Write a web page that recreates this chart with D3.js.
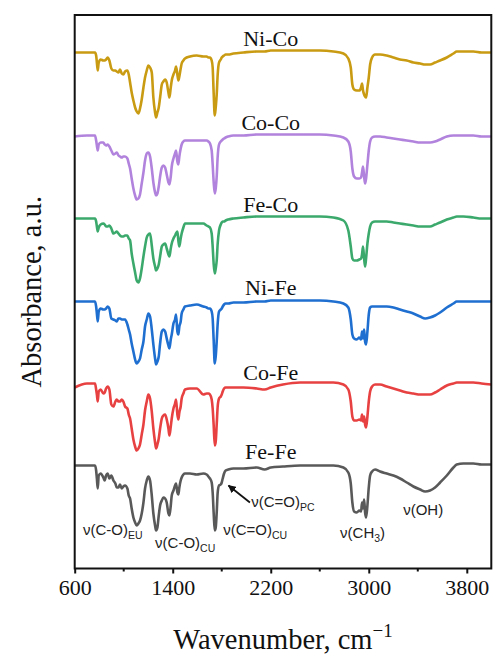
<!DOCTYPE html>
<html>
<head>
<meta charset="utf-8">
<script src="https://cdn.jsdelivr.net/npm/d3@7"></script>
<style>
  body { margin: 0; background: #fff; }
  svg text { fill: #111; }
</style>
</head>
<body>
<div id="chart"></div>
<script>
// wavenumber grid shared by all spectra (cm-1)
const wavenumbers = [600, 700, 766, 775, 781, 788, 796, 812, 834, 845, 856, 869, 883, 899, 916, 932, 943, 957, 970, 984,
  997, 1011, 1030, 1041, 1052, 1065, 1079, 1093, 1106, 1120, 1133, 1147, 1161, 1174, 1188, 1201, 1215, 1229, 1242, 1256,
  1264, 1275, 1286, 1297, 1311, 1324, 1338, 1351, 1365, 1373, 1384, 1392, 1406, 1419, 1427, 1438, 1446, 1454, 1465, 1473,
  1487, 1500, 1541, 1596, 1650, 1677, 1691, 1704, 1718, 1726, 1734, 1743, 1751, 1759, 1767, 1778, 1792, 1800, 1808, 1819,
  1832, 1854, 1895, 1977, 2086, 2150, 2200, 2300, 2440, 2600, 2711, 2793, 2833, 2853, 2866, 2880, 2902, 2923, 2937, 2945,
  2953, 2962, 2970, 2978, 2989, 3000, 3011, 3027, 3051, 3092, 3146, 3201, 3255, 3310, 3364, 3419, 3460, 3500, 3541, 3582,
  3637, 3691, 3718, 3772, 3854, 3920, 4000];

// band depth below each baseline (a.u.), one value per wavenumber
const feFe = [0, 0, 0, 5, 13, 23, 10, 8, 12, 15, 10, 8, 13, 10, 15, 18, 22, 22, 19, 23,
  21, 20, 23, 30, 33, 43, 52, 57, 60, 58, 55, 48, 37, 23, 15, 11, 15, 30, 48, 60,
  65, 62, 50, 40, 35, 32, 33, 37, 48, 50, 40, 30, 25, 20, 18, 27, 29, 22, 15, 12,
  9, 8, 8, 9, 8, 9, 11, 13, 17, 27, 47, 65, 62, 47, 27, 20, 19, 17, 13, 8,
  5, 4, 3, 3, 2, 4, 2, 1, 0, 0, 0, 2, 7, 18, 37, 46, 47, 45, 46, 37,
  43, 34, 47, 52, 40, 22, 10, 6, 4, 6, 8, 10, 13, 17, 21, 24, 26, 25, 22, 17,
  10, 2, -1, -2, -2, -1, -1];

const coFe = [1, -3, -3, 3, 8, 15, 5, 3, 7, 6, 2, 0, 3, 18, 20, 15, 13, 15, 15, 13,
  15, 20, 22, 28, 32, 42, 53, 60, 64, 62, 58, 48, 38, 24, 15, 8, 12, 25, 42, 56,
  62, 58, 52, 42, 32, 29, 28, 33, 42, 49, 40, 32, 22, 17, 13, 28, 33, 26, 20, 12,
  7, 3, 2, 2, 8, 7, 7, 8, 13, 22, 38, 59, 55, 38, 20, 12, 10, 8, 5, 2,
  1, 1, 1, 1, 2, 3, 1, -2, -4, -4, -4, -2, 3, 15, 30, 34, 34, 33, 34, 28,
  35, 30, 38, 41, 30, 15, 5, 0, -2, -2, 0, 2, 4, 6, 7, 8, 8, 8, 6, 3,
  -1, -3, -4, -4, -4, -3, -2];

const niFe = [0, 0, 0, 5, 12, 20, 10, 7, 8, 8, 7, 5, 7, 17, 18, 19, 20, 17, 17, 18,
  18, 18, 23, 28, 33, 42, 50, 58, 62, 60, 57, 48, 40, 25, 18, 12, 15, 28, 43, 57,
  63, 60, 55, 42, 30, 28, 30, 37, 44, 47, 38, 33, 22, 18, 13, 30, 33, 25, 20, 12,
  8, 5, 4, 3, 5, 6, 7, 7, 10, 17, 38, 62, 55, 40, 22, 10, 8, 7, 5, 3,
  2, 2, 1, 1, 0, 0, -1, -1, -1, -1, 0, 2, 6, 18, 33, 37, 38, 36, 38, 30,
  37, 28, 40, 43, 30, 13, 6, 5, 5, 5, 5, 6, 8, 10, 12, 15, 17, 16, 14, 11,
  6, 2, 0, 0, 0, 0, 0];

const feCo = [0, 0, 0, 3, 8, 13, 9, 6, 5, 6, 8, 8, 7, 10, 15, 14, 13, 15, 17, 18,
  18, 17, 17, 20, 22, 35, 45, 54, 62, 64, 60, 50, 38, 28, 19, 16, 15, 27, 40, 48,
  52, 50, 46, 38, 28, 26, 25, 30, 36, 38, 30, 25, 20, 17, 15, 13, 22, 28, 20, 15,
  9, 5, 5, 5, 5, 7, 8, 9, 15, 28, 45, 55, 50, 42, 25, 12, 6, 4, 3, 3,
  2, 1, 0, -1, -2, -2, -2, -2, -2, -2, -1, 2, 12, 28, 40, 42, 42, 41, 40, 36,
  28, 40, 48, 40, 25, 15, 8, 4, 3, 3, 3, 4, 5, 6, 7, 8, 8, 8, 6, 4,
  1, -1, -2, -2, -1, 0, 0];

const coCo = [0, -1, -1, 4, 9, 14, 8, 6, 6, 8, 9, 8, 10, 14, 18, 17, 16, 19, 20, 21,
  20, 20, 22, 27, 32, 42, 52, 59, 63, 62, 58, 47, 36, 24, 17, 16, 20, 32, 46, 56,
  59, 57, 50, 40, 31, 29, 31, 38, 46, 48, 40, 30, 22, 17, 14, 25, 28, 20, 12, 8,
  5, 4, 4, 4, 4, 4, 5, 7, 14, 28, 45, 57, 52, 40, 20, 8, 5, 4, 3, 2,
  1, 0, -1, -1, -2, -2, -2, -2, -2, -2, -1, 1, 5, 15, 32, 40, 42, 42, 41, 36,
  30, 40, 47, 42, 28, 14, 5, 1, 0, 0, 1, 2, 3, 4, 5, 6, 6, 6, 5, 3,
  0, -1, -1, -1, -1, 0, 0];

const niCo = [0, 0, 0, 3, 10, 18, 10, 7, 8, 8, 7, 5, 8, 16, 18, 18, 19, 20, 17, 21,
  22, 19, 18, 22, 30, 40, 48, 55, 59, 61, 56, 47, 35, 25, 18, 13, 15, 20, 45, 60,
  65, 60, 55, 45, 32, 29, 27, 30, 40, 45, 35, 28, 22, 18, 14, 22, 28, 24, 16, 11,
  8, 6, 4, 3, 4, 4, 5, 5, 8, 15, 40, 63, 55, 42, 22, 10, 7, 5, 4, 3,
  2, 2, 1, 0, -1, -1, -2, -2, -2, -2, -1, 1, 6, 15, 32, 37, 38, 38, 35, 31,
  38, 42, 44, 45, 35, 25, 12, 5, 2, 2, 3, 5, 7, 8, 10, 11, 12, 12, 10, 8,
  5, 1, -1, -1, -1, 0, 0];

const seriesNames = ["Fe-Fe", "Co-Fe", "Ni-Fe", "Fe-Co", "Co-Co", "Ni-Co"];
const seriesDepths = [feFe, coFe, niFe, feCo, coCo, niCo];
const seriesColors = ["#595959", "#e84142", "#1f6fd0", "#3ca96c", "#b283dc", "#c99b12"];
const seriesOffsets = [103, 182, 267, 350, 432, 516];

const xTicks = [600, 1400, 2200, 3000, 3800];
const xMinorTicks = [1000, 1800, 2600, 3400];

// band assignments on the Fe-Fe trace
const bands = [
  { main: "ν(C-O)", sub: "EU", tail: "", wn: 668, y: 34 },
  { main: "ν(C-O)", sub: "CU", tail: "", wn: 1256, y: 21 },
  { main: "ν(C=O)", sub: "CU", tail: "", wn: 1812, y: 34 },
  { main: "ν(C=O)", sub: "PC", tail: "", wn: 2041, y: 62 },
  { main: "ν(CH", sub: "3", tail: ")", wn: 2766, y: 31 },
  { main: "ν(OH)", sub: "", tail: "", wn: 3281, y: 54 }
];
const arrowFrom = [2030, 66];
const arrowTo = [1855, 83];

const width = 494, height = 655;
const margin = { top: 15, right: 2.7, bottom: 86.5, left: 74.7 };

const svg = d3.select("#chart").append("svg")
  .attr("width", width)
  .attr("height", height);

const x = d3.scaleLinear().domain([600, 4000]).range([margin.left, width - margin.right]);
const y = d3.scaleLinear().domain([0, 553.5]).range([height - margin.bottom, margin.top]);

svg.append("clipPath").attr("id", "plot-clip")
  .append("rect")
  .attr("x", margin.left).attr("y", margin.top)
  .attr("width", width - margin.left - margin.right)
  .attr("height", height - margin.top - margin.bottom);

const line = d3.line()
  .x(d => x(d[0]))
  .y(d => y(d[1]))
  .curve(d3.curveMonotoneX);

const plot = svg.append("g").attr("clip-path", "url(#plot-clip)");

seriesNames.forEach((name, i) => {
  const pts = wavenumbers.map((w, j) => [w, seriesOffsets[i] - seriesDepths[i][j]]);
  plot.append("path")
    .datum(pts)
    .attr("fill", "none")
    .attr("stroke", seriesColors[i])
    .attr("stroke-width", 2.6)
    .attr("stroke-linejoin", "round")
    .attr("d", line);

  svg.append("text")
    .attr("x", x(2200))
    .attr("y", y(seriesOffsets[i] + 7))
    .attr("text-anchor", "middle")
    .style("font-family", "'Liberation Serif', serif")
    .style("font-size", "22px")
    .text(name);
});

// band labels
bands.forEach(b => {
  const t = svg.append("text")
    .attr("x", x(b.wn))
    .attr("y", y(b.y))
    .style("font-family", "'Liberation Sans', Arial, sans-serif")
    .style("font-size", "15px")
    .style("fill", "#222");
  t.append("tspan").text(b.main);
  if (b.sub) t.append("tspan").attr("dy", 4).style("font-size", "10.5px").text(b.sub);
  if (b.tail) t.append("tspan").attr("dy", -4).text(b.tail);
});

svg.append("defs").append("marker")
  .attr("id", "arrowhead")
  .attr("viewBox", "0 0 10 10")
  .attr("refX", 9).attr("refY", 5)
  .attr("markerWidth", 4.5).attr("markerHeight", 4.5)
  .attr("orient", "auto")
  .append("path")
  .attr("d", "M0,0L10,5L0,10z")
  .attr("fill", "#111");

svg.append("line")
  .attr("x1", x(arrowFrom[0])).attr("y1", y(arrowFrom[1]))
  .attr("x2", x(arrowTo[0])).attr("y2", y(arrowTo[1]))
  .attr("stroke", "#111")
  .attr("stroke-width", 1.8)
  .attr("marker-end", "url(#arrowhead)");

// frame
svg.append("rect")
  .attr("x", margin.left).attr("y", margin.top)
  .attr("width", width - margin.left - margin.right)
  .attr("height", height - margin.top - margin.bottom)
  .attr("fill", "none")
  .attr("stroke", "#111")
  .attr("stroke-width", 2);

// bottom axis
const xAxis = svg.append("g")
  .attr("transform", `translate(0,${height - margin.bottom})`);

xAxis.call(d3.axisBottom(x).tickValues(xTicks).tickSize(5).tickPadding(6).tickFormat(d3.format("d")))
  .call(g => g.select(".domain").remove())
  .call(g => g.selectAll(".tick line").attr("stroke", "#111").attr("stroke-width", 2))
  .call(g => g.selectAll(".tick text")
    .style("font-family", "'Liberation Serif', serif")
    .style("font-size", "22px")
    .attr("fill", "#111"));

xAxis.selectAll(".minor")
  .data(xMinorTicks)
  .enter().append("line")
  .attr("class", "minor")
  .attr("x1", d => x(d)).attr("x2", d => x(d))
  .attr("y1", 0).attr("y2", 3)
  .attr("stroke", "#111")
  .attr("stroke-width", 2);

// axis titles
const xTitle = svg.append("text")
  .attr("x", (margin.left + width - margin.right) / 2)
  .attr("y", 649)
  .attr("text-anchor", "middle")
  .style("font-family", "'Liberation Serif', serif")
  .style("font-size", "28.5px");
xTitle.append("tspan").text("Wavenumber, cm");
xTitle.append("tspan").attr("dy", -12).style("font-size", "19px").text("−1");

svg.append("text")
  .attr("transform", `translate(41,${(margin.top + height - margin.bottom) / 2}) rotate(-90)`)
  .attr("text-anchor", "middle")
  .style("font-family", "'Liberation Serif', serif")
  .style("font-size", "28.5px")
  .text("Absorbance, a.u.");
</script>
</body>
</html>
